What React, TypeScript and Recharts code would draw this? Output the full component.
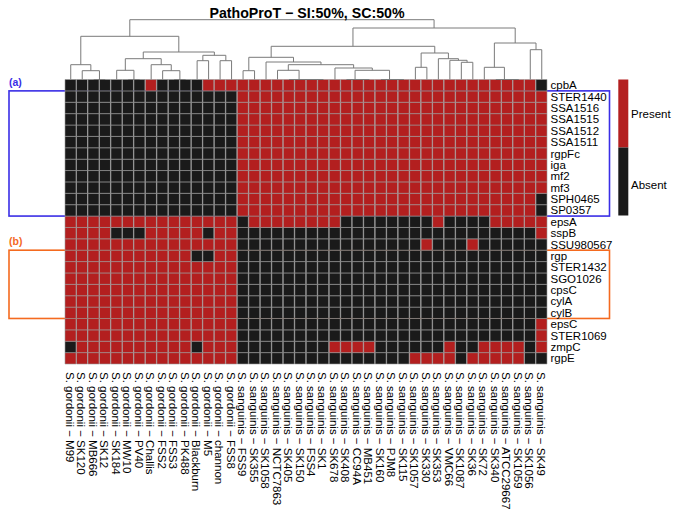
import { Bar, BarChart, Cell, Line, LineChart, ReferenceArea, XAxis, YAxis } from 'recharts';

const RED = '#b31f1f';
const BLACK = '#1a1a1a';
const GRID = '#9a9a9a';

const genes = [
  'cpbA', 'STER1440', 'SSA1516', 'SSA1515', 'SSA1512', 'SSA1511', 'rgpFc', 'iga', 'mf2', 'mf3',
  'SPH0465', 'SP0357', 'epsA', 'sspB', 'SSU980567', 'rgp', 'STER1432', 'SGO1026', 'cpsC', 'cylA',
  'cylB', 'epsC', 'STER1069', 'zmpC', 'rgpE',
];

const gordonii = [
  'M99', 'SK120', 'MB666', 'SK12', 'SK184', 'MW10', 'PV40', 'Challis', 'FSS2', 'FSS3',
  'PK488', 'Blackburn', 'M5', 'channon', 'FSS8',
];

const sanguinis = [
  'FSS9', 'SK355', 'SK1058', 'NCTC7863', 'SK405', 'SK150', 'FSS4', 'SK1', 'SK678', 'SK408',
  'CC94A', 'MB451', 'SK160', 'PJM8', 'SK115', 'SK1057', 'SK330', 'SK353', 'VMC66', 'SK1087',
  'SK36', 'SK72', 'SK340', 'ATCC29667', 'SK1059', 'SK1056', 'SK49',
];

// 1 = present, 0 = absent. one string per gene, strains in column order (spaces ignored)
const presence = [
  '00000 00100 00111 11111 11111 11111 11111 11111 10', // cpbA
  '00000 00000 00000 11111 11111 11111 11111 11111 11', // STER1440
  '00000 00000 00000 11111 11111 11111 11111 11111 11', // SSA1516
  '00000 00000 00000 11111 11111 11111 11111 11111 11', // SSA1515
  '00000 00000 00000 11111 11111 11111 11111 11111 11', // SSA1512
  '00000 00000 00000 11111 11111 11111 11111 11111 11', // SSA1511
  '00000 00000 00000 11111 11111 11111 11111 11111 11', // rgpFc
  '00000 00000 00000 11111 11111 11111 11111 11111 11', // iga
  '00000 00000 00000 11111 11111 11111 11111 11111 11', // mf2
  '00000 00000 00000 11111 11111 11111 11111 11111 11', // mf3
  '00000 00000 00000 11111 11111 11111 11111 11111 10', // SPH0465
  '00000 00000 00000 11111 11111 11111 11111 11111 10', // SP0357
  '11111 11111 11111 01111 11110 00000 00100 00111 11', // epsA
  '11110 00111 11011 00000 00000 00000 00000 00000 01', // sspB
  '11111 11111 11111 00000 00000 00000 01000 10000 00', // SSU980567
  '11111 11111 10011 00000 00000 00000 00000 00000 00', // rgp
  '11111 11111 11111 00000 00000 00000 00000 00000 00', // STER1432
  '11111 11111 11111 00000 00000 00000 00000 00000 00', // SGO1026
  '11111 11111 11111 00000 00000 00000 00000 00000 00', // cpsC
  '11111 11111 11111 00000 00000 00000 00000 00000 00', // cylA
  '11111 11111 11111 00000 00000 00000 00000 00000 00', // cylB
  '11111 11111 11111 00000 00000 00000 00000 00000 01', // epsC
  '11111 11111 11111 00000 00000 00000 00000 00000 01', // STER1069
  '01111 11111 10111 00000 00011 11000 00010 01111 01', // zmpC
  '11111 11111 11111 00000 00000 00000 11110 11111 00', // rgpE
];

// column dendrogram: [left, right, height]; numbers are strain columns, 'mN' is merge N
const merges: [number | string, number | string, number][] = [
  [2, 3, 0], [1, 'm0', 8.8], [0, 'm1', 14.8],
  [5, 6, 0], [4, 'm3', 9.2], [9, 10, 0], [8, 'm5', 8.8], [7, 'm6', 14.8], ['m4', 'm7', 20.8],
  [11, 12, 18.8], [13, 14, 18.8], ['m9', 'm10', 24.2], ['m8', 'm11', 27.5], ['m2', 'm12', 43.2],
  [15, 16, 8.8], [21, 22, 0], [20, 'm15', 0], [19, 'm16', 0], [18, 'm17', 9.2],
  [25, 26, 0], [24, 'm19', 0], [28, 29, 0], [27, 'm21', 0], ['m20', 'm22', 9.2],
  [23, 'm23', 11.5], ['m18', 'm24', 14.8], [17, 'm25', 17.5], ['m14', 'm26', 22.2],
  [30, 31, 12.2], [34, 35, 17.2], [33, 'm29', 19.2], [32, 'm30', 20.8], ['m28', 'm31', 26.5],
  ['m27', 'm32', 33.2],
  [38, 39, 0], [37, 'm34', 0], [36, 'm35', 12.2], [40, 41, 29.8], ['m36', 'm37', 36.5],
  ['m33', 'm38', 51.5], ['m13', 'm39', 59.8],
];

const legendItems = [
  { label: 'Present', color: RED },
  { label: 'Absent', color: BLACK },
];

const boxes = [
  { tag: '(a)', from: 'STER1440', to: 'SP0357', color: '#3a2ee6' },
  { tag: '(b)', from: 'rgp', to: 'cylB', color: '#f46a1f' },
];

const strains = [
  ...gordonii.map((s) => `S. gordonii − ${s}`),
  ...sanguinis.map((s) => `S. sanguinis − ${s}`),
];
const matrix = presence.map((row) => row.replace(/ /g, ''));

const heatData = strains.map((name) => {
  const row: Record<string, string | number> = { name };
  genes.forEach((g) => { row[g] = 1; });
  return row;
});

// dendrogram segments from the merge list
const pos: Record<string, { x: number; h: number }> = {};
const nodeAt = (n: number | string) => (typeof n === 'number' ? { x: n + 0.5, h: 0 } : pos[n]);
const dendroLines = merges.map(([a, b, h], i) => {
  const l = nodeAt(a);
  const r = nodeAt(b);
  pos[`m${i}`] = { x: (l.x + r.x) / 2, h };
  return [
    { x: l.x, y: l.h },
    { x: l.x, y: h },
    { x: r.x, y: h },
    { x: r.x, y: r.h },
  ];
});

const W = 675;
const H = 511;
const PLOT = { left: 65, right: 547.5, top: 79.5, bottom: 364 };

function StrainTick({ x, y, payload }: any) {
  return (
    <text
      x={x}
      y={y}
      dy={5}
      transform={`rotate(90, ${x}, ${y})`}
      textAnchor="start"
      fontSize={11.5}
      fill="#000"
    >
      {payload.value}
    </text>
  );
}

export default function App() {
  const rowIndex = (g: string) => genes.indexOf(g);
  const n = genes.length;
  const legendTop = 79.5;
  const legendSeg = 68;

  return (
    <div
      style={{
        position: 'absolute',
        left: 0,
        top: 0,
        width: W,
        height: H,
        background: '#fff',
        fontFamily: '"Liberation Sans", Arial, sans-serif',
      }}
    >
      <div style={{ position: 'absolute', left: 0, top: 0 }}>
        <BarChart
          width={W}
          height={H}
          data={heatData}
          barCategoryGap={0}
          barGap={0}
          margin={{ top: PLOT.top, left: PLOT.left, right: W - PLOT.right - 80, bottom: H - PLOT.bottom - 140 }}
        >
          <XAxis
            dataKey="name"
            interval={0}
            height={140}
            axisLine={false}
            tickLine={false}
            tickSize={6}
            tickMargin={2}
            tick={<StrainTick />}
          />
          <YAxis
            type="number"
            orientation="right"
            width={80}
            domain={[0, n]}
            ticks={genes.map((_, i) => i + 0.5)}
            interval={0}
            tickFormatter={(v: number) => genes[n - 1 - Math.floor(v)]}
            axisLine={false}
            tickLine={false}
            tickSize={1}
            tickMargin={2}
            tick={{ fill: '#000', fontSize: 11.5 }}
          />
          {[...genes].reverse().map((g) => {
            const r = rowIndex(g);
            return (
              <Bar key={g} dataKey={g} stackId="h" stroke={GRID} strokeWidth={0.6} isAnimationActive={false}>
                {strains.map((s, c) => (
                  <Cell key={s} fill={matrix[r][c] === '1' ? RED : BLACK} />
                ))}
              </Bar>
            );
          })}
          {boxes.map((b) => (
            <ReferenceArea
              key={b.tag}
              y1={n - 1 - rowIndex(b.to)}
              y2={n - rowIndex(b.from)}
              ifOverflow="visible"
              shape={(p: any) => (
                <g>
                  <rect
                    x={9}
                    y={p.y}
                    width={600.5}
                    height={p.height}
                    fill="none"
                    stroke={b.color}
                    strokeWidth={1.6}
                  />
                  <text x={9} y={p.y - 5} fill={b.color} fontSize={10.5} fontWeight="bold">
                    {b.tag}
                  </text>
                </g>
              )}
            />
          ))}
        </BarChart>
      </div>

      <div style={{ position: 'absolute', left: 0, top: 0, pointerEvents: 'none' }}>
        <LineChart
          width={W}
          height={90}
          margin={{ top: 19.7, left: PLOT.left, right: W - PLOT.right, bottom: 90 - PLOT.top }}
        >
          <XAxis type="number" dataKey="x" domain={[0, strains.length]} hide />
          <YAxis type="number" domain={[0, 59.8]} hide />
          {dendroLines.map((pts, i) => (
            <Line
              key={i}
              data={pts}
              dataKey="y"
              type="linear"
              stroke="#7a7a7a"
              strokeWidth={1}
              dot={false}
              activeDot={false}
              isAnimationActive={false}
            />
          ))}
        </LineChart>
      </div>

      <svg
        width={W}
        height={H}
        style={{ position: 'absolute', left: 0, top: 0, pointerEvents: 'none' }}
      >
        <text x={307} y={18} textAnchor="middle" fontSize={14.2} fontWeight="bold" fill="#000">
          PathoProT − SI:50%, SC:50%
        </text>
        {legendItems.map((it, i) => (
          <g key={it.label}>
            <rect x={618.3} y={legendTop + i * legendSeg} width={10} height={legendSeg} fill={it.color} />
            <text
              x={631}
              y={legendTop + i * legendSeg + legendSeg / 2 + 4 + i * 3}
              fontSize={11.5}
              fill="#000"
            >
              {it.label}
            </text>
          </g>
        ))}
      </svg>
    </div>
  );
}
